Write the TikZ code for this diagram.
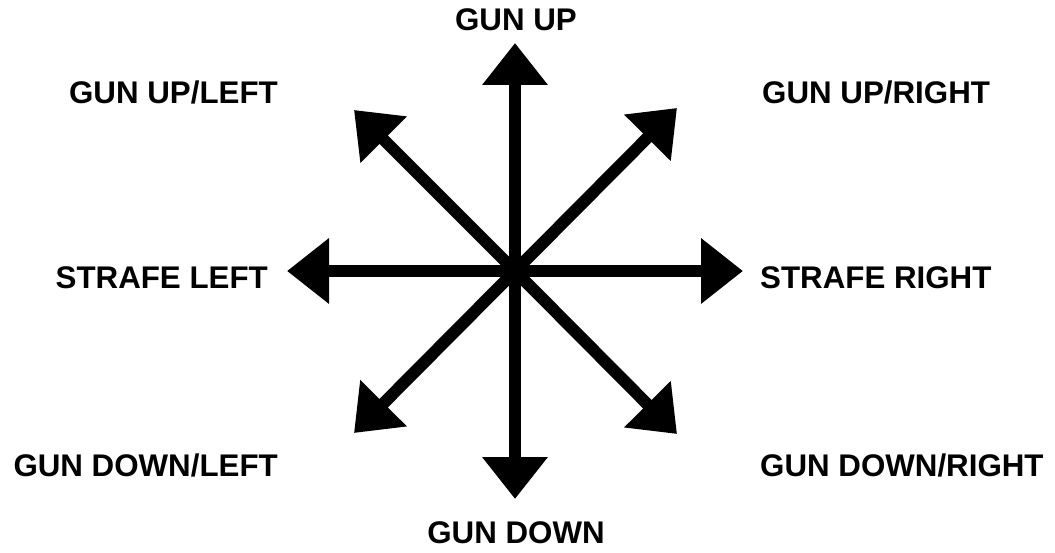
\documentclass[tikz,border=0pt]{standalone}
\usepackage{fontspec}
\setmainfont{Liberation Sans}
\usetikzlibrary{
    arrows.meta
}
\tikzset{
  dirarrow/.style={
    black,
    line width=12pt,
    -{Triangle[length=42pt,width=63pt]}
  },
  dirlabel/.style={
    inner sep=0pt,
    font=\fontsize{31.3}{36}\selectfont\bfseries
  }
}

\begin{document}
\begin{tikzpicture}[x=1pt,y=-1pt]
    \useasboundingbox (0,0) rectangle (1055,553);

    % 中心と矢の先
    \coordinate (C) at (515,271);
    \coordinate (U) at (515,43);
    \coordinate (D) at (515,499);
    \coordinate (L) at (287,271);
    \coordinate (R) at (743,271);
    \coordinate (UL) at (354,110);
    \coordinate (UR) at (677,108);
    \coordinate (DL) at (354,433);
    \coordinate (DR) at (677,434);

    % 矢
    \draw[dirarrow] (C) -- (U);
    \draw[dirarrow] (C) -- (D);
    \draw[dirarrow] (C) -- (L);
    \draw[dirarrow] (C) -- (R);
    \draw[dirarrow] (C) -- (UL);
    \draw[dirarrow] (C) -- (UR);
    \draw[dirarrow] (C) -- (DL);
    \draw[dirarrow] (C) -- (DR);

    % ラベル
    \node[dirlabel,anchor=base] (tU) at (516,31) {GUN UP};
    \node[dirlabel,anchor=base] (tD) at (516,543) {GUN DOWN};
    \node[dirlabel,anchor=base east] (tUL) at (278,104) {GUN UP/LEFT};
    \node[dirlabel,anchor=base west] (tUR) at (762,104) {GUN UP/RIGHT};
    \node[dirlabel,anchor=base east] (tL) at (268,289) {STRAFE LEFT};
    \node[dirlabel,anchor=base west] (tR) at (760,289) {STRAFE RIGHT};
    \node[dirlabel,anchor=base east] (tDL) at (278,476) {GUN DOWN/LEFT};
    \node[dirlabel,anchor=base west] (tDR) at (760,476) {GUN DOWN/RIGHT};
\end{tikzpicture}
\end{document}
